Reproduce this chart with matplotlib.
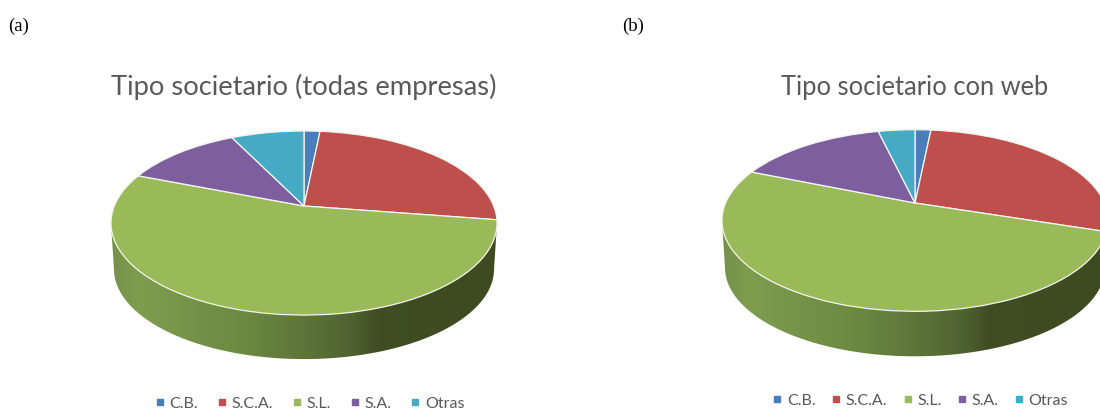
import numpy as np
import matplotlib
matplotlib.use('Agg')
import matplotlib.pyplot as plt
from matplotlib.colors import LinearSegmentedColormap
from matplotlib.lines import Line2D
from matplotlib.patches import Polygon
from matplotlib.transforms import Transform

# Datos (porcentajes)
categorias = ['C.B.', 'S.C.A.', 'S.L.', 'S.A.', 'Otras']
todas_empresas = [1.6, 25.8, 53.5, 11.8, 7.3]
con_web = [1.6, 28.4, 51.2, 15.1, 3.7]
titulo_a = 'Tipo societario (todas empresas)'
titulo_b = 'Tipo societario con web'

colores = ['#4a7ebb', '#be4f4c', '#9ab958', '#7d5fa0', '#46aac5']
pared = ['#74934a', '#7f9d4f', '#6d8a42', '#5d7539', '#4f6330', '#404e23', '#3e4a20']
pared_pos = [0, 0.07, 0.33, 0.5, 0.62, 0.69, 1]
cmap_pared = LinearSegmentedColormap.from_list('pared', list(zip(pared_pos, pared)))


class Perspectiva(Transform):
    # pasa el circulo unidad de la tarta a la elipse inclinada, en pixeles
    input_dims = 2
    output_dims = 2

    def __init__(self, cx, cy, a, b, k):
        super().__init__()
        self.cx, self.cy, self.a, self.b, self.k = cx, cy, a, b, k

    def transform_non_affine(self, xy):
        xy = np.asarray(xy, dtype=float)
        d = 1 + self.k * xy[:, 1]
        return np.column_stack([self.cx + self.a * xy[:, 0] / d,
                                self.cy - self.b * xy[:, 1] / d])


def tarta(ax, valores, titulo, cx, cy, a, b, k, prof, tam_tit, y_tit, x_leg, y_leg, sep_leg):
    wedges, _ = ax.pie(valores, colors=colores, startangle=90, counterclock=False,
                       wedgeprops={'edgecolor': '#f4f6ee', 'linewidth': 0.9})
    ax.set(xlim=(0, 1100), ylim=(410, 0), aspect='auto')
    per = Perspectiva(cx, cy, a, b, k)
    for w in wedges:
        w.set_transform(per + ax.transData)
        w.set_zorder(3)

    # pared lateral con degradado
    t = np.linspace(0, 2 * np.pi, 200)
    borde = per.transform(np.column_stack([np.cos(t), np.sin(t)]))
    ancho = borde[:, 0].max() - cx
    cy_elipse = (borde[:, 1].min() + borde[:, 1].max()) / 2
    alto = (borde[:, 1].max() - borde[:, 1].min()) / 2
    tt = np.linspace(0, np.pi, 120)
    x_inf = cx + (ancho - 3) * np.cos(tt)
    y_inf = cy_elipse + prof + (alto - 2) * np.sin(tt)
    contorno = np.column_stack([np.r_[cx + ancho, x_inf, cx - ancho],
                                np.r_[cy_elipse, y_inf, cy_elipse]])
    clip = Polygon(contorno, closed=True, transform=ax.transData, fc='none', ec='none')
    ax.add_patch(clip)
    grad = np.linspace(0, 1, 256).reshape(1, -1)
    im = ax.imshow(grad, cmap=cmap_pared, aspect='auto', zorder=2,
                   extent=(cx - ancho, cx + ancho, cy_elipse + prof + alto, cy_elipse))
    im.set_clip_path(clip)
    ax.set(xlim=(0, 1100), ylim=(410, 0), aspect='auto')

    ax.text(cx, y_tit, titulo, ha='center', va='center', fontsize=tam_tit,
            family='Lato', color='#595959')

    handles = [Line2D([], [], ls='none', marker='s', ms=4, color=c) for c in colores]
    ax.legend(handles, categorias, ncol=5, loc='center', bbox_to_anchor=(x_leg, y_leg),
              bbox_transform=ax.transData, frameon=False, handlelength=0.8,
              handletextpad=0.2, columnspacing=sep_leg, borderpad=0,
              prop={'family': 'Lato', 'size': 11.5}, labelcolor='#595959')


fig = plt.figure(figsize=(11, 4.1), dpi=100)
ax_a = fig.add_axes([0, 0, 1, 1])
ax_b = fig.add_axes([0, 0, 1, 1])
ax_b.patch.set_alpha(0)

tarta(ax_a, todas_empresas, titulo_a, 304, 207, 189.7, 88.9, 0.185, 46, 19.7, 87, 309, 404, 1.1)
tarta(ax_b, con_web, titulo_b, 915, 204, 189.4, 87.4, 0.193, 47, 18.4, 87, 919.5, 401, 0.88)

ax_a.text(8, 26, '(a)', family='Liberation Serif', fontsize=13.5, va='center', color='black')
ax_a.text(622, 26, '(b)', family='Liberation Serif', fontsize=13.5, va='center', color='black')

fig.savefig('out.png', dpi=100)
